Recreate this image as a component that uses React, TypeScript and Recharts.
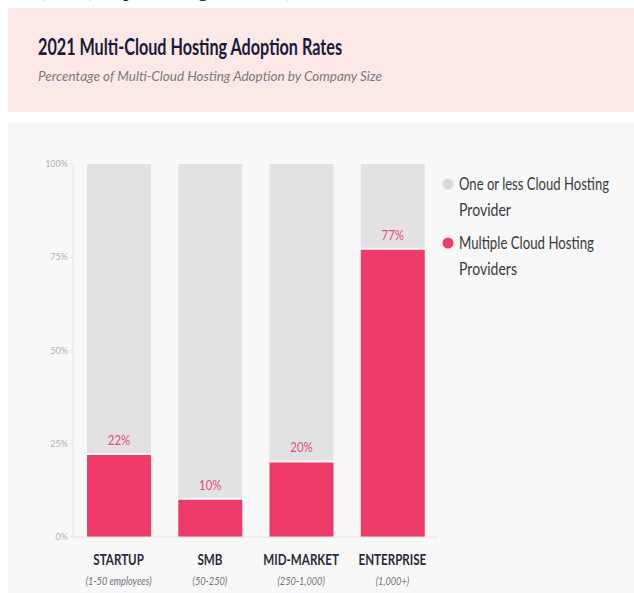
import { BarChart, Bar, XAxis, YAxis, LabelList, Legend } from 'recharts'

const categories = ['STARTUP', 'SMB', 'MID-MARKET', 'ENTERPRISE']
const subLabels = ['(1-50 employees)', '(50-250)', '(250-1,000)', '(1,000+)']
const multiCloud = [22, 10, 20, 77]
const yTicks = [0, 25, 50, 75, 100]
const legendLines = [
  ['One or less Cloud Hosting', 'Provider'],
  ['Multiple Cloud Hosting', 'Providers'],
]

const PINK = '#ee3b69'
const GREY = '#e2e2e4'
const FONT = 'Lato, "Open Sans", sans-serif'

const data = categories.map((name, i) => ({
  name,
  multi: multiCloud[i],
  single: 100 - multiCloud[i],
}))

function CategoryTick({ x, y, payload, index }: any) {
  return (
    <g transform={`translate(${x},${y}) scale(0.8,1)`}>
      <text y={28} textAnchor='middle' fontSize={14.5} fontWeight={700} fill='#2a2a3a' fontFamily={FONT}>
        {payload.value}
      </text>
      <text y={48} textAnchor='middle' fontSize={11.5} fontStyle='italic' fill='#707080' fontFamily={FONT}>
        {subLabels[index]}
      </text>
    </g>
  )
}

function GreyShape(props: any) {
  const { x, y, width, height } = props
  return <rect x={x} y={y} width={width} height={Math.max(0, height - 2)} fill={GREY} />
}

function PctLabel(props: any) {
  const { x, y, width, value } = props
  const cx = x + width / 2
  return (
    <text x={cx} y={y - 10} textAnchor='middle' fontSize={13.5} fill='#e34c75' fontFamily={FONT}
      transform={`translate(${cx * 0.15},0) scale(0.85,1)`}>
      {value}%
    </text>
  )
}

function LegendBox() {
  const colours = ['#d9d9db', PINK]
  const widths = [[150, 52], [135, 58]]
  return (
    <svg width={194} height={140} style={{ position: 'absolute', left: 440, top: 160 }}>
      {legendLines.map((lines, i) => (
        <g key={i} transform={`translate(0,${24 + i * 59})`}>
          <circle cx={8} cy={0} r={5.5} fill={colours[i]} />
          {lines.map((t, j) => (
            <text key={j} x={19} y={j * 26 + 6} fontSize={16.5} fill='#3a3a40' fontFamily={FONT}
              textLength={widths[i][j]} lengthAdjust='spacingAndGlyphs'>
              {t}
            </text>
          ))}
        </g>
      ))}
    </svg>
  )
}

export default function App() {
  return (
    <div style={{ position: 'absolute', left: 0, top: 0, width: 634, height: 593, overflow: 'hidden', background: '#fff' }}>
      <svg width={400} height={10} style={{ position: 'absolute', left: 0, top: 0 }}>
        <text x={38} y={-4} fontSize={22} fontFamily='"Liberation Serif", serif' fill='#111'>
          (2021), a percentage of total)
        </text>
      </svg>
      <svg width={626} height={104} style={{ position: 'absolute', left: 8, top: 8 }}>
        <rect width={626} height={104} fill='#fde8e8' />
        <text x={30} y={47} fontSize={22.5} fontWeight={700} fill='#1a1a38' fontFamily={FONT}
          textLength={304} lengthAdjust='spacingAndGlyphs'>
          2021 Multi-Cloud Hosting Adoption Rates
        </text>
        <text x={30} y={73} fontSize={13} fontStyle='italic' fill='#7a7a7a' fontFamily={FONT}
          textLength={344} lengthAdjust='spacingAndGlyphs'>
          Percentage of Multi-Cloud Hosting Adoption by Company Size
        </text>
      </svg>
      <div style={{ position: 'absolute', left: 8, top: 122, width: 626, height: 471, background: '#f8f8f8' }} />
      <div style={{ position: 'absolute', left: 0, top: 0 }}>
        <BarChart width={634} height={593} data={data} margin={{ top: 164, right: 196, bottom: 6, left: 33 }}>
          <YAxis
            width={40}
            domain={[0, 100]}
            ticks={yTicks}
            tickFormatter={(v) => `${v}%`}
            tick={{ fontSize: 9, fill: '#b0b0b6', fontFamily: FONT }}
            tickSize={3}
            tickMargin={2}
            axisLine={{ stroke: '#e6e6e8' }}
            tickLine={{ stroke: '#dcdcdf' }}
          />
          <XAxis
            dataKey='name'
            height={50}
            tick={<CategoryTick />}
            tickSize={0}
            tickMargin={0}
            tickLine={false}
            axisLine={{ stroke: '#e2e2e4' }}
            interval={0}
          />
          <Legend
            layout='horizontal'
            verticalAlign='middle'
            align='center'
            wrapperStyle={{ position: 'absolute', left: 0, top: 0, width: 0, height: 0 }}
            content={() => <LegendBox />}
          />
          <Bar dataKey='multi' stackId='a' fill={PINK} barSize={64} isAnimationActive={false}>
            <LabelList dataKey='multi' content={<PctLabel />} />
          </Bar>
          <Bar dataKey='single' stackId='a' fill={GREY} barSize={64} shape={<GreyShape />} isAnimationActive={false} />
        </BarChart>
      </div>
    </div>
  )
}
